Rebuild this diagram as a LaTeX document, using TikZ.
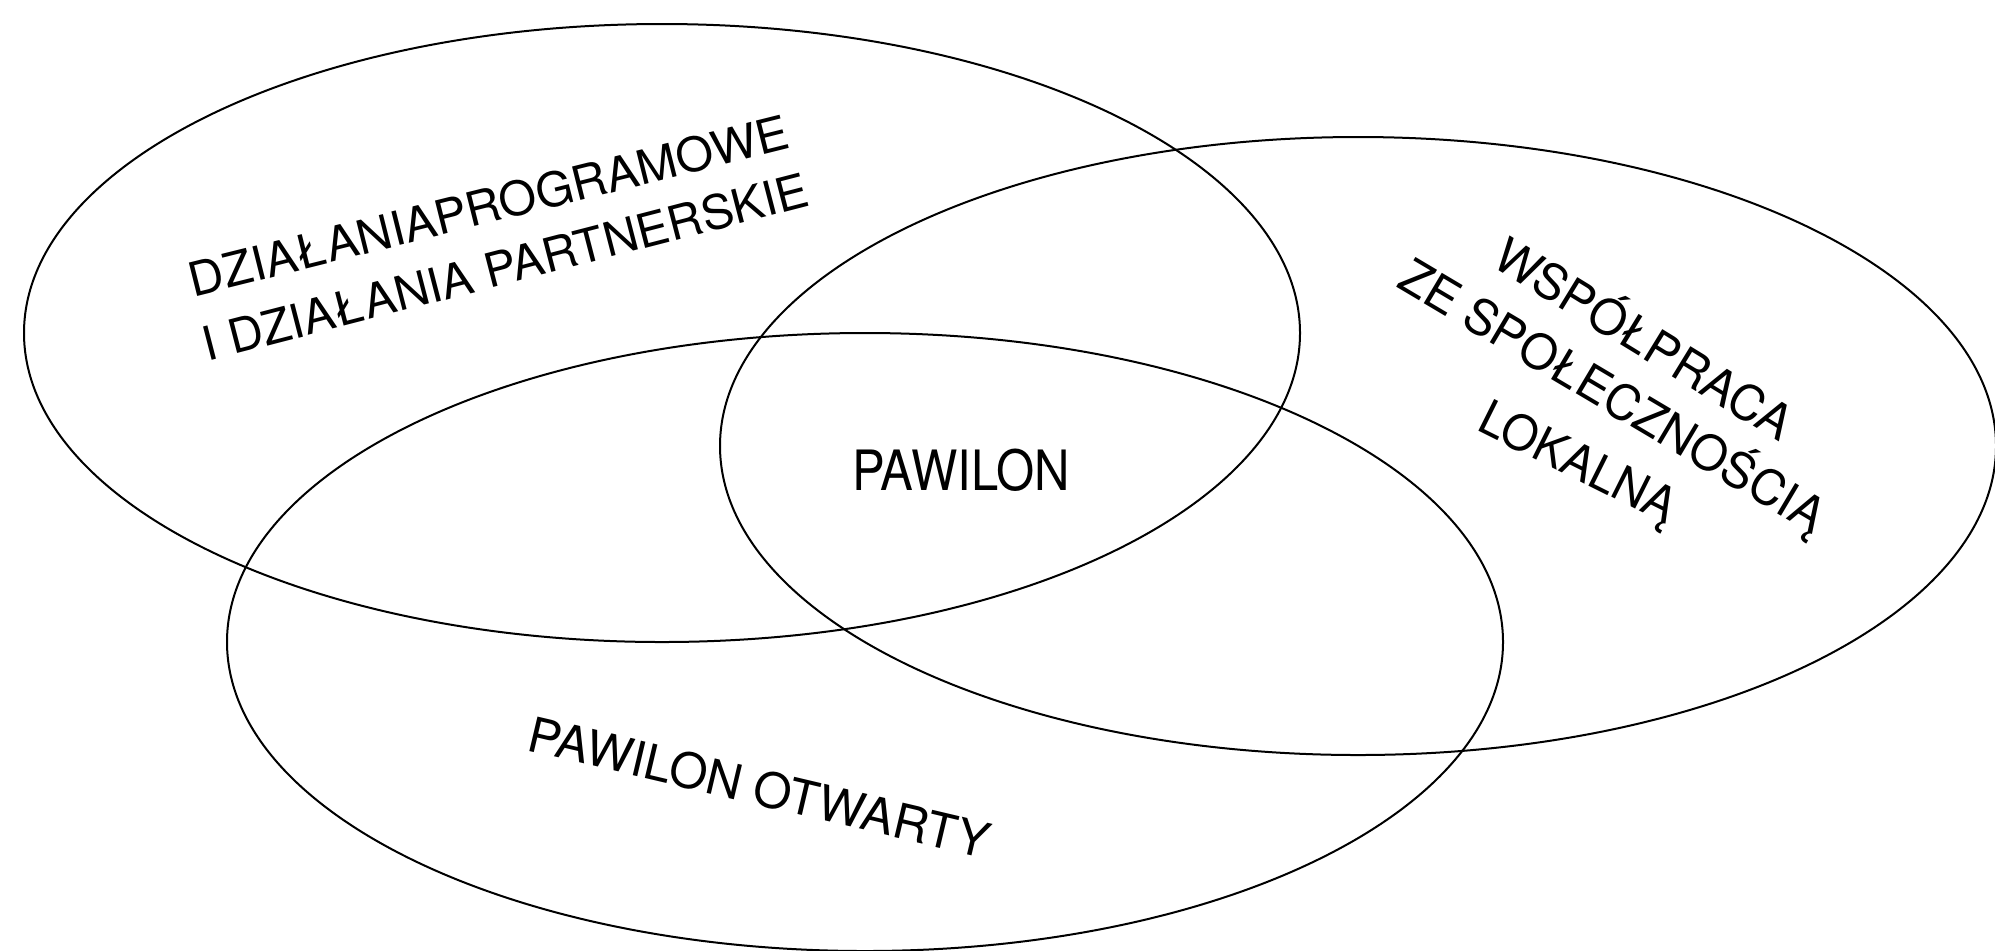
\documentclass[tikz,border=0pt]{standalone}
\usepackage{fontspec}
\setmainfont{TeX Gyre Heros}
\usepackage{graphicx}
\usetikzlibrary{shapes.geometric}
\newcommand\fitline[3]{\resizebox{#1pt}{\height}{\fontsize{#2pt}{#2pt}\selectfont #3}}
\begin{document}
\begin{tikzpicture}[x=0.5pt,y=-0.5pt,
  circ/.style={draw, ellipse, line width=1pt, minimum width=638pt, minimum height=309pt, inner sep=0pt},
  lbl/.style={inner sep=0pt, anchor=base, text=black}]
\useasboundingbox (0,0) rectangle (1995,950);
\fill[white] (0,0) rectangle (1995,950);
% three ellipses
\node[circ] (e1) at (662,333) {};
\node[circ] (e2) at (1358,446) {};
\node[circ] (e3) at (865,642) {};
% labels
\node[lbl, rotate=14.0]  (dz1) at (492.5,222.5) {\fitline{308}{23.6}{DZIAŁANIAPROGRAMOWE}};
\node[lbl, rotate=14.5]  (dz2) at (509.5,283.5) {\fitline{312}{23.6}{I DZIAŁANIA PARTNERSKIE}};
\node[lbl, rotate=-31.5] (w1)  at (1635,354)    {\fitline{169.5}{24.3}{WSPÓŁPRACA}};
\node[lbl, rotate=-30.7] (w2)  at (1604,410.5)  {\fitline{243}{24.3}{ZE SPOŁECZNOŚCIĄ}};
\node[lbl, rotate=-26.5] (w3)  at (1571,477)    {\fitline{107}{24.3}{LOKALNĄ}};
\node[lbl, rotate=-13.3] (otw) at (755.5,804.5) {\fitline{236}{24.3}{PAWILON OTWARTY}};
\node[lbl]               (paw) at (961,490)     {\fitline{109}{27.8}{PAWILON}};
\end{tikzpicture}
\end{document}
